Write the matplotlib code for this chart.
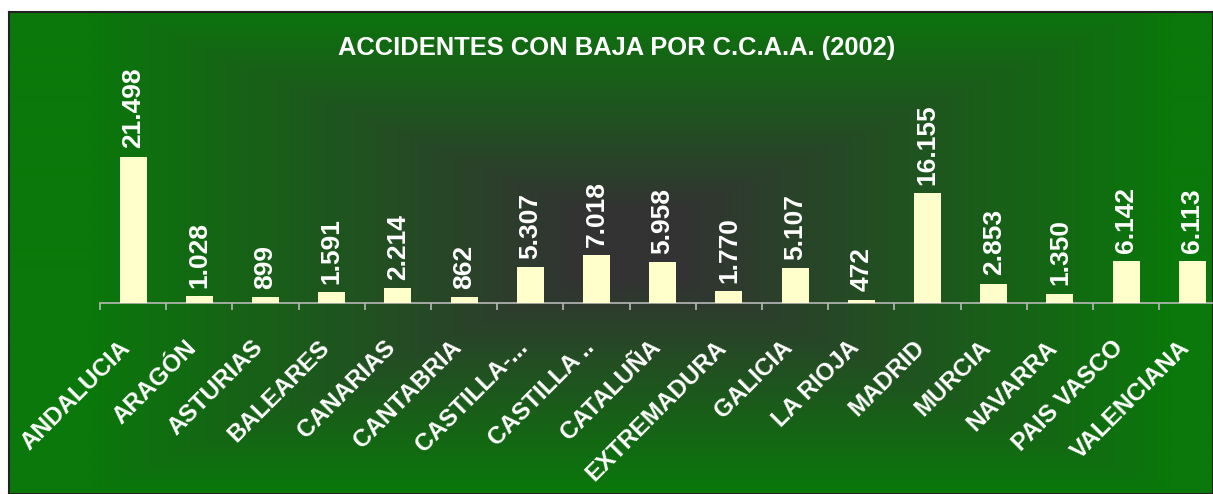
import matplotlib.pyplot as plt
import matplotlib.transforms as mtransforms
from matplotlib.colors import to_rgb
import numpy as np

# data
regions = ['ANDALUCIA', 'ARAGÓN', 'ASTURIAS', 'BALEARES', 'CANARIAS', 'CANTABRIA',
           'CASTILLA-...', 'CASTILLA ..', 'CATALUÑA', 'EXTREMADURA', 'GALICIA',
           'LA RIOJA', 'MADRID', 'MURCIA', 'NAVARRA', 'PAIS VASCO', 'VALENCIANA']
accidentes = [21498, 1028, 899, 1591, 2214, 862, 5307, 7018, 5958, 1770, 5107,
              472, 16155, 2853, 1350, 6142, 6113]
title = 'ACCIDENTES CON BAJA POR C.C.A.A. (2002)'

W, H = 1213, 494
edge_green = np.array(to_rgb('#0a780a'))
center_gray = np.array(to_rgb('#333333'))
bar_color = '#ffffcc'
axis_gray = '#b8b8b8'
font = 'Liberation Sans'

fig = plt.figure(figsize=(W / 100, H / 100), dpi=100)
fig.patch.set_facecolor('white')

# background frame: rectangular gradient, dark in the middle
fx0, fy0 = 9, 12
fw, fh = W - fx0, H - fy0
bg = fig.add_axes([fx0 / W, 0, fw / W, fh / H])
yy, xx = np.mgrid[fy0:H:2, fx0:W:2].astype(float)
cx, cy = 630, 245
tx = np.clip((np.abs(xx - cx) - 50) / (540 - 50), 0, 1)
ty = np.clip((np.abs(yy - cy) - 35) / (245 - 35), 0, 1)
t = np.maximum(tx, ty)[..., None]
img = center_gray * (1 - t) + edge_green * t
bg.imshow(img, aspect='auto', extent=[0, 1, 0, 1], interpolation='bilinear')
bg.set_xticks([])
bg.set_yticks([])
for s in bg.spines.values():
    s.set_color('#222222')
    s.set_linewidth(1.5)

# main axes: baseline at y=303 px, category width ~66.2 px starting at x=100
n = len(regions)
cat_px = 66.2
base_px = 303
top_px = 60
px_per_unit = (base_px - 156.7) / 21498
ymax = (base_px - top_px) / px_per_unit
ax = fig.add_axes([100 / W, (H - base_px) / H, n * cat_px / W, (base_px - top_px) / H])
ax.patch.set_alpha(0)

x = np.arange(n)
ax.bar(x, accidentes, width=0.41, color=bar_color, edgecolor='none', zorder=3)
ax.set_xlim(-0.5, n - 0.5)
ax.set_ylim(0, ymax)

for xi, v in zip(x, accidentes):
    ax.annotate(f'{v:,}'.replace(',', '.'), (xi, v), xytext=(0, 6),
                textcoords='offset points', rotation=90, ha='center', va='bottom',
                color='white', fontsize=19, fontweight='bold', family=font)

for side in ['top', 'right', 'left']:
    ax.spines[side].set_visible(False)
ax.spines['bottom'].set_color(axis_gray)
ax.spines['bottom'].set_linewidth(1.2)
ax.set_yticks([])

# tick marks at category boundaries, labels drawn as text
ax.set_xticks(np.arange(n + 1) - 0.5)
ax.set_xticklabels([])
ax.tick_params(axis='x', length=5, width=1.2, color=axis_gray, direction='out')

shift = mtransforms.ScaledTranslation(-6 / 100, -41 / 100, fig.dpi_scale_trans)
lbl_trans = ax.get_xaxis_transform() + shift
for xi, name in zip(x, regions):
    ax.text(xi, 0, name, transform=lbl_trans, rotation=45, rotation_mode='anchor',
            ha='right', va='center', color='white', fontsize=17.5,
            fontweight='bold', family=font)

fig.text(617 / W, (H - 55) / H, title, ha='center', va='baseline', color='white',
         fontsize=18.4, fontweight='bold', family=font)

fig.savefig('out.png', dpi=100)
